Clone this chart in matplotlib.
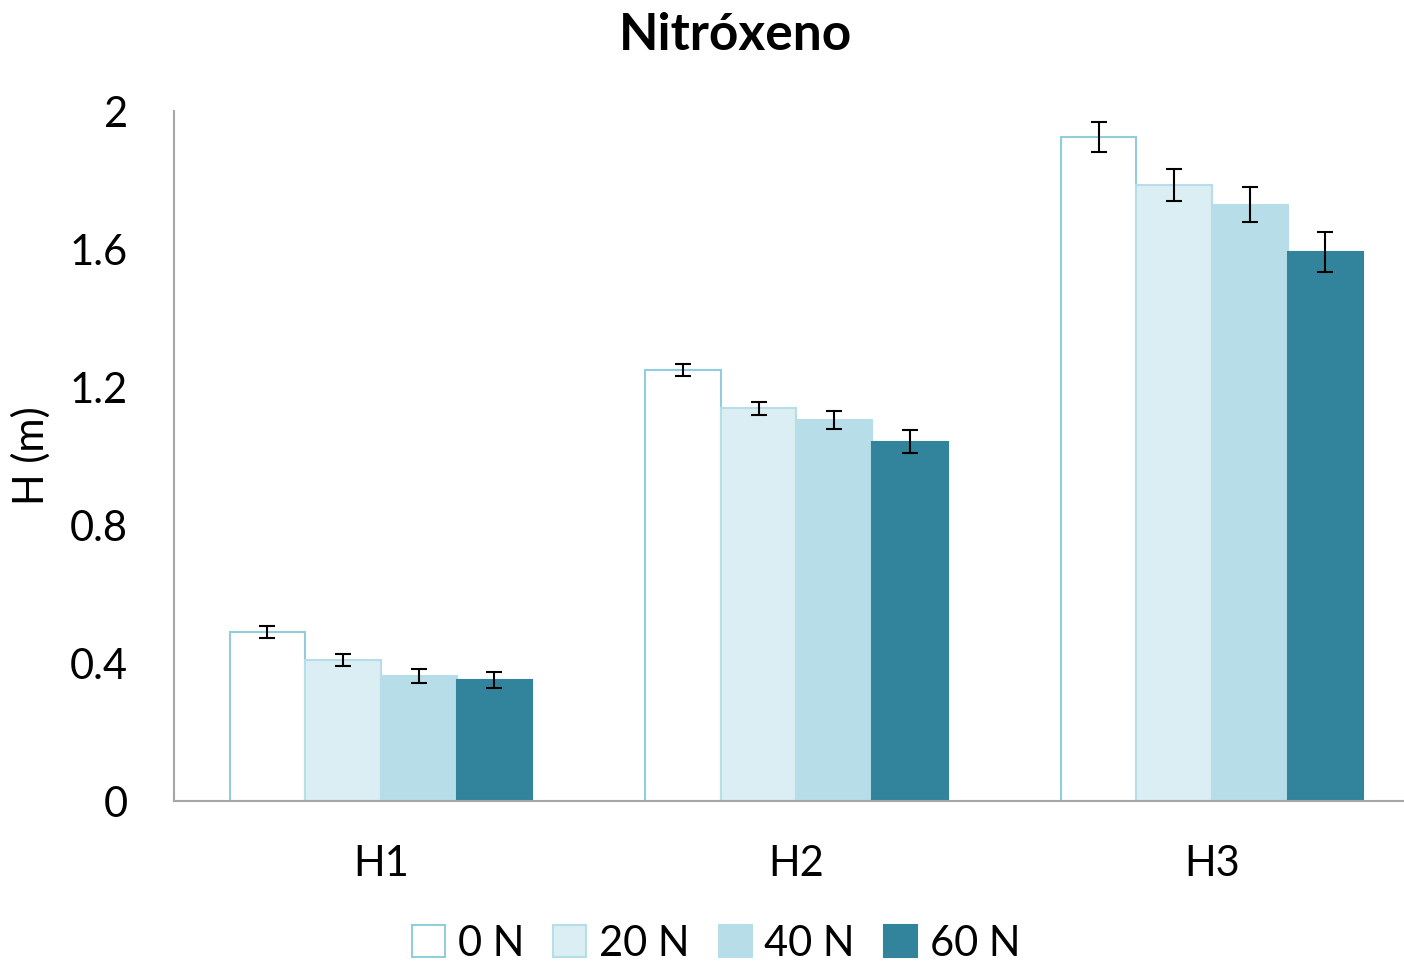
import numpy as np
import matplotlib.pyplot as plt

plt.rcParams['font.family'] = ['Lato', 'DejaVu Sans']

grupos = ["H1", "H2", "H3"]
tratamentos = ["0 N", "20 N", "40 N", "60 N"]
alturas = [
    [0.49, 1.249, 1.925],
    [0.409, 1.139, 1.786],
    [0.362, 1.104, 1.728],
    [0.351, 1.041, 1.591],
]
erros = [
    [0.017, 0.017, 0.043],
    [0.017, 0.019, 0.046],
    [0.020, 0.026, 0.051],
    [0.023, 0.033, 0.057],
]
cores = ["#ffffff", "#daeef3", "#b7dee8", "#31849b"]
bordas = ["#92cddc", "#b7dee8", "#b7dee8", "#31849b"]

fig = plt.figure(figsize=(14.04, 9.63), dpi=100)
ax = fig.add_axes([0.1239, 0.1682, 0.8761, 0.7165])

x = np.arange(len(grupos))
w = 0.182
for i in range(4):
    pos = x + (i - 1.5) * w
    ax.bar(pos, alturas[i], width=w, color=cores[i], edgecolor=bordas[i],
           linewidth=1.5, label=tratamentos[i], zorder=2)
    ax.errorbar(pos, alturas[i], yerr=erros[i], fmt='none', ecolor='black',
                elinewidth=1.5, capsize=6, capthick=1.5, zorder=3)

ax.set_xlim(-0.498, 2.462)
ax.set_ylim(0, 2)
ax.set_yticks([0, 0.4, 0.8, 1.2, 1.6, 2])
ax.set_yticklabels(["0", "0.4", "0.8", "1.2", "1.6", "2"])
ax.set_xticks(x)
ax.set_xticklabels(grupos)
ax.tick_params(axis='both', length=0, labelsize=30)
ax.tick_params(axis='x', pad=32)
ax.tick_params(axis='y', pad=33)

for s in ['top', 'right']:
    ax.spines[s].set_visible(False)
ax.spines['left'].set_color('#a6a6a6')
ax.spines['bottom'].set_color('#a6a6a6')
ax.spines['left'].set_linewidth(1.5)
ax.spines['bottom'].set_linewidth(1.5)

ax.set_ylabel("H (m)", fontsize=30, labelpad=14)
fig.text(0.524, 0.963, "Nitróxeno", ha='center', va='center',
         fontsize=37, fontweight='bold')

fig.legend(loc='center', bbox_to_anchor=(0.51, 0.02), ncol=4, frameon=False,
           fontsize=30, handlelength=0.8, handleheight=0.8, handletextpad=0.3,
           columnspacing=0.7)

fig.savefig("out.png", dpi=100)
